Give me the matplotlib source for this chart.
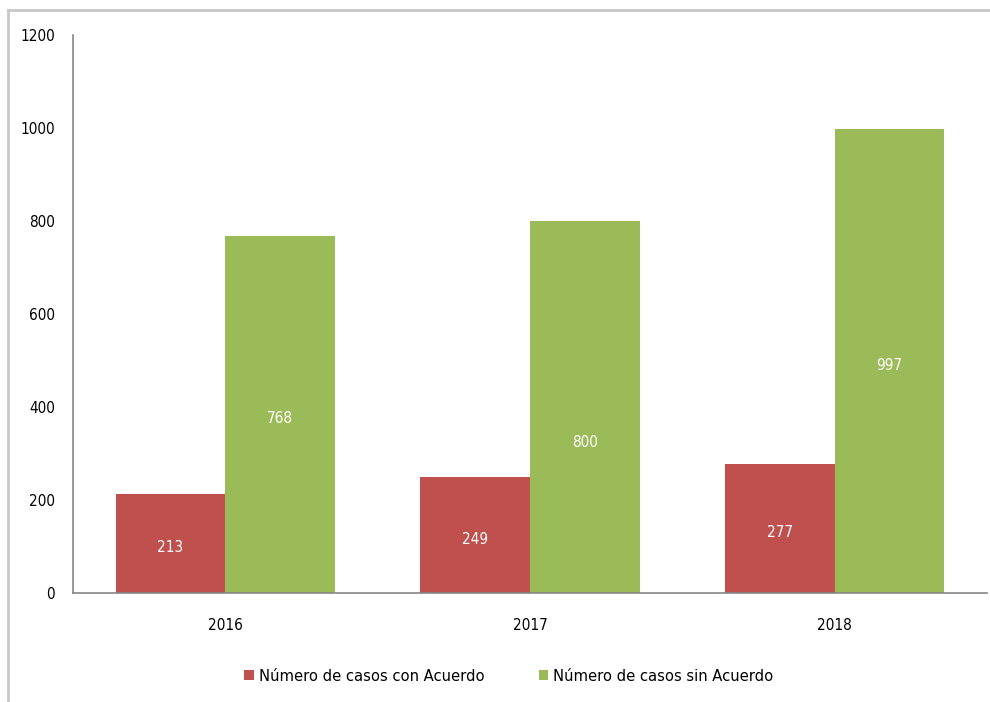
import matplotlib.pyplot as plt
import matplotlib.lines as mlines
import numpy as np

plt.rcParams['font.family'] = ['Liberation Sans Narrow', 'DejaVu Sans']
plt.rcParams['font.stretch'] = 'condensed'

years = ['2016', '2017', '2018']
con_acuerdo = [213, 249, 277]
sin_acuerdo = [768, 800, 997]
series_names = ['Número de casos con Acuerdo', 'Número de casos sin Acuerdo']
yticks = [0, 200, 400, 600, 800, 1000, 1200]

red = '#C0504D'
green = '#9BBB59'

fig = plt.figure(figsize=(9.9, 7.02), dpi=100)
ax = fig.add_axes([0.0737, 0.1553, 0.9233, 0.7947])

x = np.arange(len(years))
w = 0.36
b1 = ax.bar(x - w / 2, con_acuerdo, w, color=red, label=series_names[0])
b2 = ax.bar(x + w / 2, sin_acuerdo, w, color=green, label=series_names[1])

# labels inside bars (the 800 one sits lower in the original)
shift1 = [-4, -4, -4]
shift2 = [-4, -35, -4]
for i in range(len(years)):
    ax.annotate(str(con_acuerdo[i]), (x[i] - w / 2, con_acuerdo[i] / 2),
                xytext=(0, shift1[i]), textcoords='offset pixels',
                ha='center', va='center', color='white', fontsize=11)
    ax.annotate(str(sin_acuerdo[i]), (x[i] + w / 2, sin_acuerdo[i] / 2),
                xytext=(0, shift2[i]), textcoords='offset pixels',
                ha='center', va='center', color='white', fontsize=11)

ax.set_xlim(-0.5, 2.5)
ax.set_ylim(0, 1200)
ax.set_yticks(yticks)
ax.set_xticks(x)
ax.set_xticklabels(years)
ax.tick_params(axis='both', length=0, labelsize=11, colors='black')
ax.tick_params(axis='x', pad=18)
ax.tick_params(axis='y', pad=13)

for s in ['top', 'right']:
    ax.spines[s].set_visible(False)
for s in ['left', 'bottom']:
    ax.spines[s].set_color('#868686')
    ax.spines[s].set_linewidth(1.2)

ax.legend(loc='center', bbox_to_anchor=(0.514, 0.037), bbox_transform=fig.transFigure,
          ncol=2, frameon=False, fontsize=11.8, handlelength=0.6, handleheight=0.6,
          handletextpad=0.3, columnspacing=3.3)

# outer chart frame (only top and left visible in the crop)
fig.add_artist(mlines.Line2D([8 / 990, 1], [1 - 10 / 702, 1 - 10 / 702],
                             transform=fig.transFigure, color='#C8C8C8', lw=2))
fig.add_artist(mlines.Line2D([8 / 990, 8 / 990], [0, 1 - 10 / 702],
                             transform=fig.transFigure, color='#C8C8C8', lw=2))

fig.savefig('out.png', dpi=100)
